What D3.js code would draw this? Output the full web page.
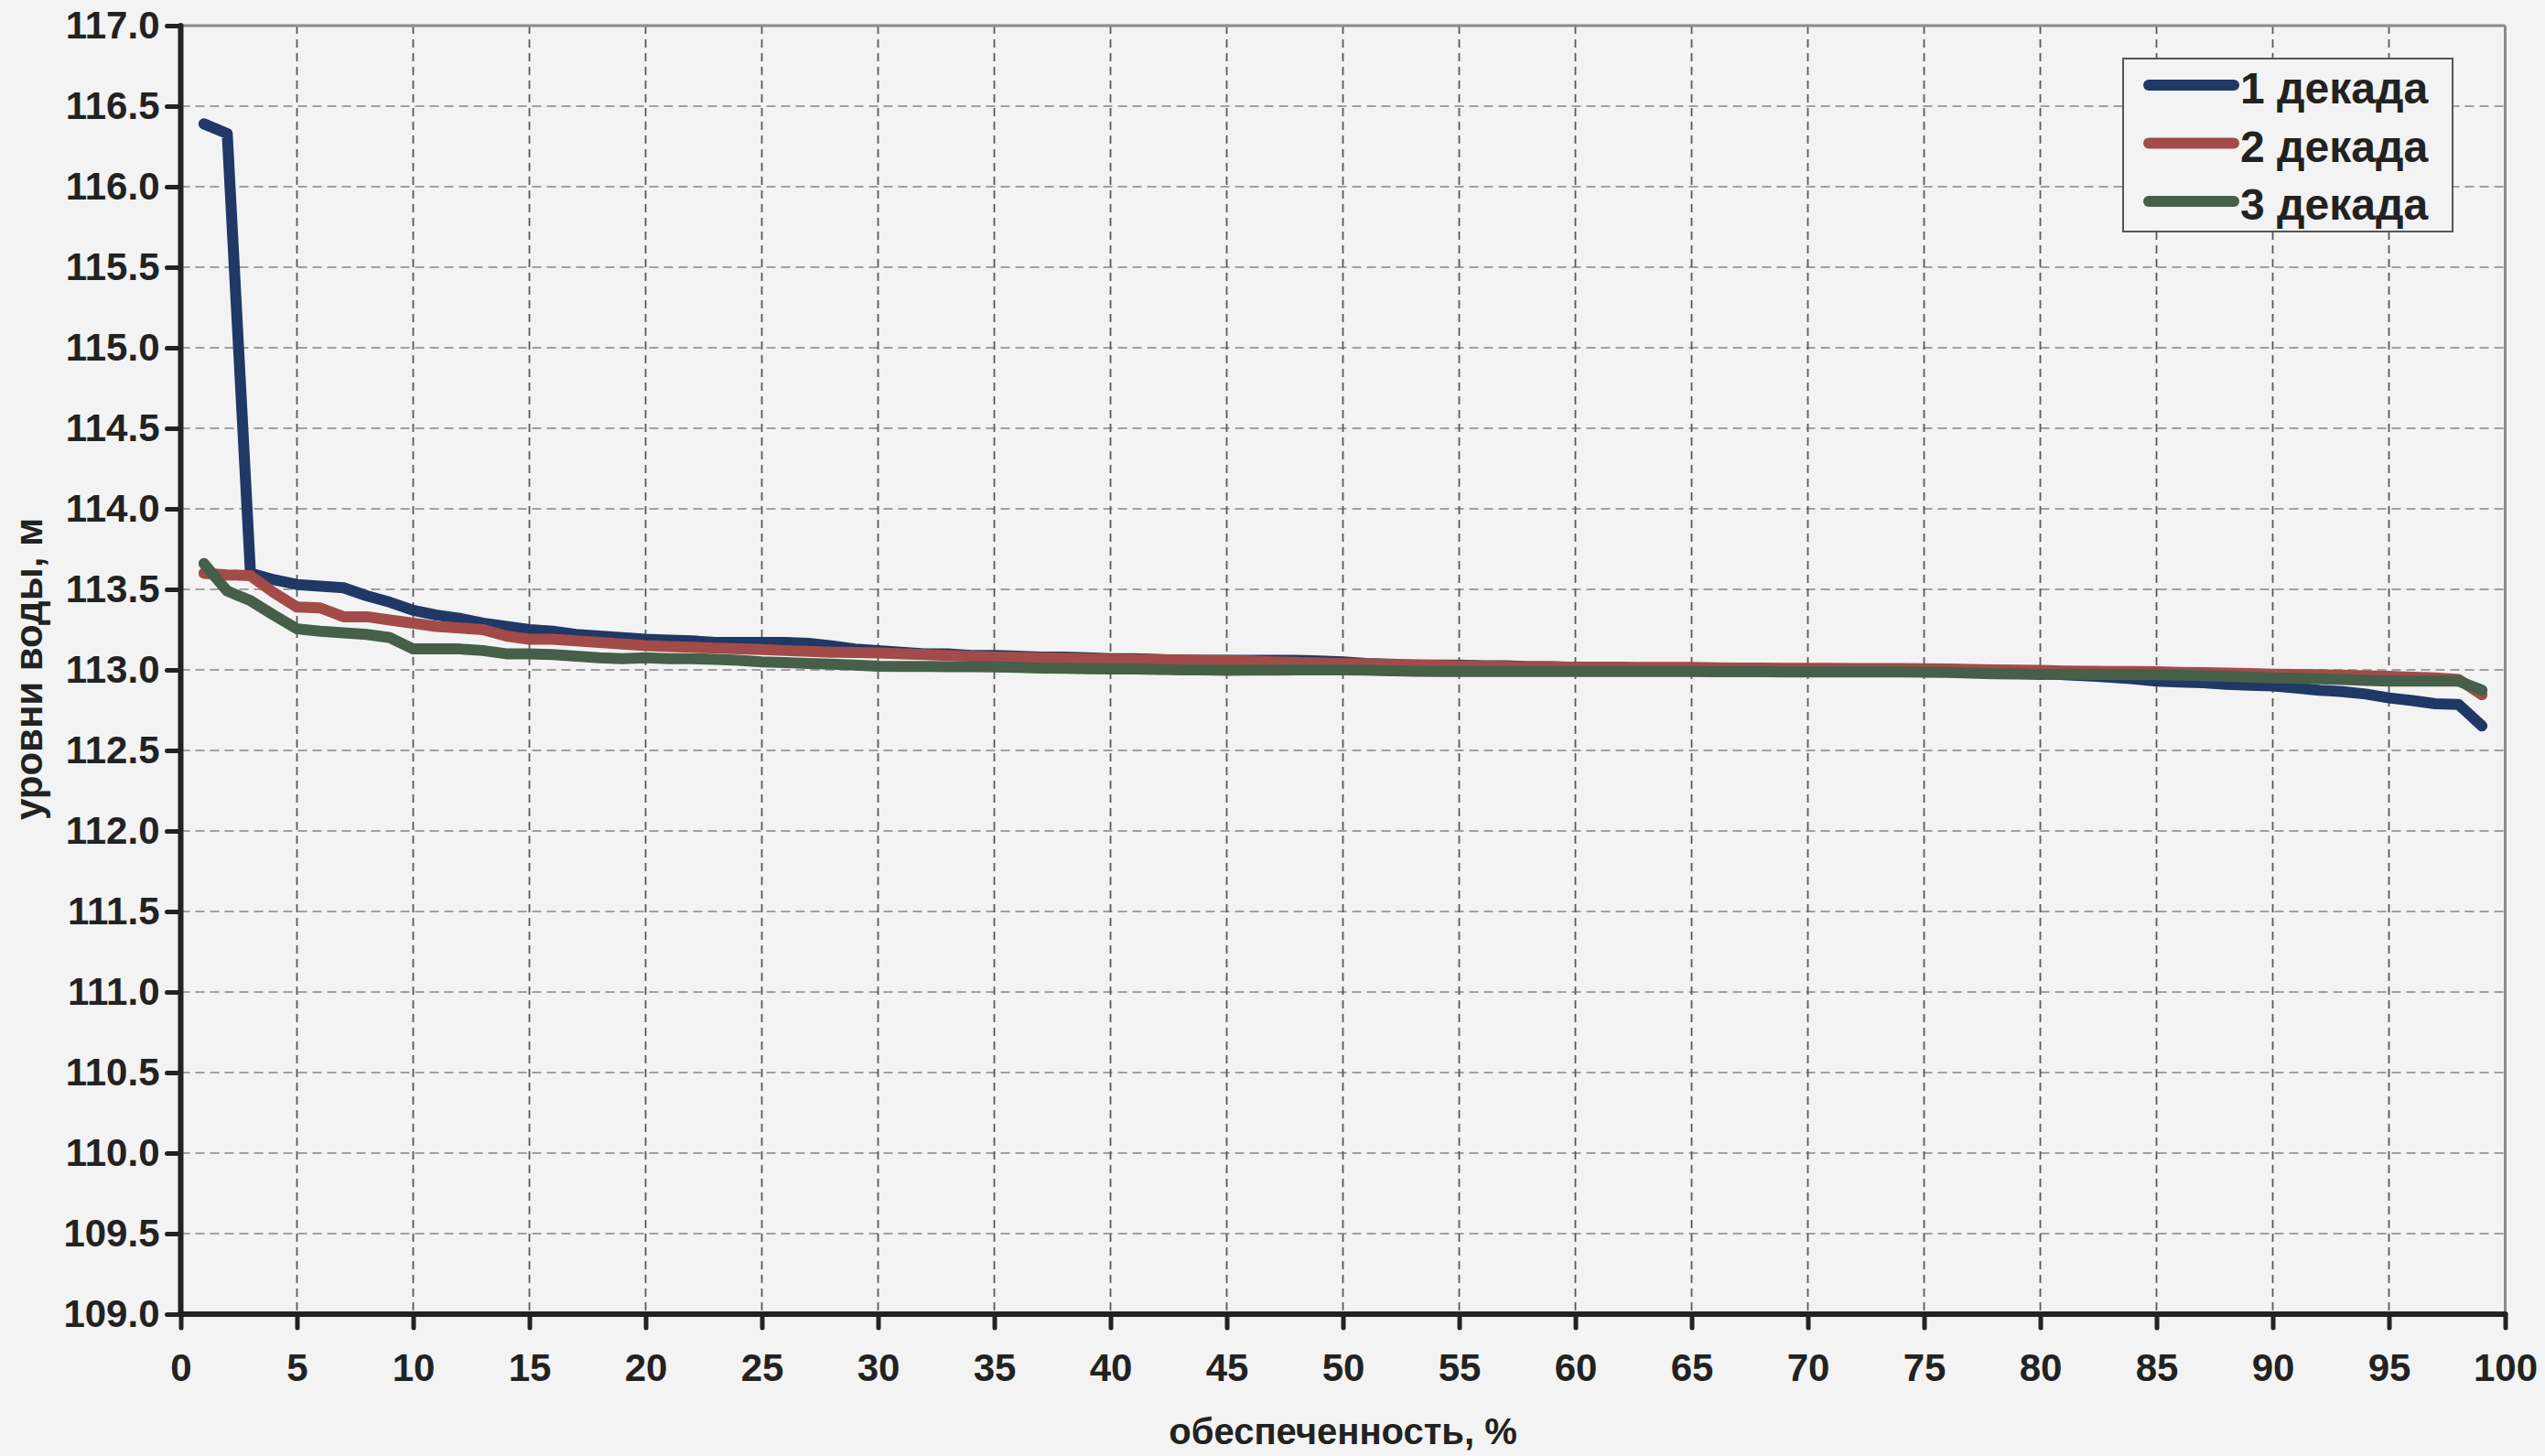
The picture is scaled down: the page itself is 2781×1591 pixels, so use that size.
<!DOCTYPE html>
<html><head><meta charset="utf-8">
<script src="https://cdn.jsdelivr.net/npm/d3@7/dist/d3.min.js"></script>
<style>
html,body{margin:0;padding:0;background:#f3f3f3;}
svg{display:block;}
text{font-family:"Liberation Sans",Arial,sans-serif;font-weight:bold;fill:#222;}
</style></head>
<body>
<script>
const xValues = d3.range(1, 100);
const seriesNames = ["1 декада", "2 декада", "3 декада"];
const decade1 = [116.39,116.33,113.60,113.56,113.53,113.52,113.51,113.46,113.42,113.37,
113.34,113.32,113.29,113.27,113.25,113.24,113.22,113.21,113.20,113.19,
113.185,113.18,113.17,113.17,113.17,113.17,113.165,113.15,113.13,113.12,
113.11,113.10,113.10,113.09,113.09,113.085,113.08,113.08,113.075,113.07,
113.07,113.065,113.06,113.06,113.06,113.06,113.06,113.06,113.055,113.05,
113.04,113.035,113.03,113.03,113.03,113.025,113.025,113.02,113.02,113.015,
113.015,113.015,113.01,113.01,113.01,113.01,113.01,113.005,113.005,113.005,
113.005,113.005,113.0,113.0,113.0,113.0,112.995,112.99,112.985,112.98,
112.97,112.963,112.955,112.945,112.93,112.925,112.92,112.91,112.905,112.90,
112.888,112.874,112.865,112.85,112.826,112.81,112.79,112.785,112.652];
const decade2 = [113.60,113.59,113.585,113.48,113.39,113.385,113.33,113.33,113.31,113.29,
113.27,113.26,113.25,113.21,113.19,113.19,113.18,113.17,113.16,113.15,
113.145,113.14,113.135,113.13,113.127,113.12,113.115,113.11,113.108,113.105,
113.10,113.095,113.09,113.085,113.08,113.078,113.075,113.072,113.07,113.067,
113.065,113.063,113.062,113.06,113.058,113.055,113.05,113.047,113.043,113.04,
113.037,113.034,113.031,113.028,113.026,113.024,113.022,113.02,113.018,113.016,
113.016,113.016,113.016,113.016,113.015,113.013,113.012,113.011,113.01,113.01,
113.01,113.009,113.008,113.008,113.007,113.005,113.003,113.0,112.998,112.997,
112.993,112.992,112.99,112.99,112.988,112.985,112.983,112.98,112.977,112.973,
112.972,112.97,112.967,112.963,112.96,112.955,112.95,112.94,112.846];
const decade3 = [113.66,113.49,113.43,113.34,113.255,113.24,113.23,113.22,113.20,113.13,
113.13,113.13,113.12,113.10,113.10,113.095,113.085,113.075,113.07,113.075,
113.07,113.07,113.065,113.06,113.05,113.045,113.04,113.035,113.03,113.023,
113.022,113.021,113.02,113.02,113.018,113.015,113.012,113.01,113.007,113.005,
113.005,113.003,113.0,113.0,112.997,112.998,112.999,113.0,113.0,113.0,
112.998,112.995,112.992,112.99,112.99,112.99,112.99,112.99,112.99,112.99,
112.99,112.99,112.99,112.99,112.99,112.989,112.988,112.988,112.987,112.987,
112.987,112.987,112.987,112.987,112.986,112.984,112.98,112.976,112.974,112.972,
112.973,112.972,112.971,112.97,112.97,112.967,112.963,112.96,112.955,112.95,
112.947,112.944,112.94,112.935,112.93,112.93,112.93,112.93,112.874];
const seriesColors = ["#1f3866", "#a34b49", "#465f48"];
const xTicks = d3.range(0, 101, 5);
const yTicks = d3.range(109, 117.01, 0.5);
const xTitle = "обеспеченность, %";
const yTitle = "уровни воды, м";

const W = 2781, H = 1591;
const m = {left: 197.5, right: 2737.5, top: 28, bottom: 1436};
const svg = d3.select("body").append("svg").attr("width", W).attr("height", H);
svg.append("rect").attr("width", W).attr("height", H).attr("fill", "#f3f3f3");

const x = d3.scaleLinear().domain([0, 100]).range([m.left, m.right]);
const y = d3.scaleLinear().domain([109, 117]).range([m.bottom, m.top]);

// grid
const grid = svg.append("g");
grid.selectAll(".hg").data(yTicks.slice(1)).enter().append("line")
  .attr("x1", m.left).attr("x2", m.right)
  .attr("y1", d => y(d)).attr("y2", d => y(d))
  .attr("stroke", "#a0a0a0").attr("stroke-width", 2).attr("stroke-dasharray", "10,6");
grid.selectAll(".vg").data(xTicks.slice(1, -1)).enter().append("line")
  .attr("x1", d => x(d)).attr("x2", d => x(d))
  .attr("y1", m.top).attr("y2", m.bottom)
  .attr("stroke", "#5a5a5a").attr("stroke-width", 1.8).attr("stroke-dasharray", "9,6");

// top and right borders
svg.append("line").attr("x1", m.left).attr("x2", m.right).attr("y1", m.top).attr("y2", m.top)
  .attr("stroke", "#8a8a8a").attr("stroke-width", 3);
svg.append("line").attr("x1", m.right).attr("x2", m.right).attr("y1", m.top).attr("y2", m.bottom)
  .attr("stroke", "#8a8a8a").attr("stroke-width", 3);

// series
const data = [decade1, decade2, decade3];
const line = d3.line().x((d, i) => x(xValues[i])).y(d => y(d));
data.forEach((s, k) => {
  svg.append("path").datum(s).attr("d", line).attr("fill", "none")
    .attr("stroke", seriesColors[k]).attr("stroke-width", 12)
    .attr("stroke-linejoin", "round").attr("stroke-linecap", "round");
});

// axes
const yAxis = d3.axisLeft(y).tickValues(yTicks).tickFormat(d3.format(".1f")).tickSize(15).tickPadding(8);
const gy = svg.append("g").attr("transform", `translate(${m.left},0)`).call(yAxis);
const xAxis = d3.axisBottom(x).tickValues(xTicks).tickFormat(d3.format("d")).tickSize(15).tickPadding(28);
const gx = svg.append("g").attr("transform", `translate(0,${m.bottom})`).call(xAxis);
[gy, gx].forEach(g => {
  g.select(".domain").remove();
  g.selectAll(".tick line").attr("stroke", "#222").attr("stroke-width", 5).attr("stroke-linecap", "round");
  g.selectAll(".tick text").attr("font-size", 42).attr("fill", "#222")
    .attr("font-family", "'Liberation Sans', Arial, sans-serif").attr("font-weight", "bold");
});
svg.append("line").attr("x1", m.left).attr("x2", m.left).attr("y1", m.top).attr("y2", m.bottom)
  .attr("stroke", "#222").attr("stroke-width", 6).attr("stroke-linecap", "round");
svg.append("line").attr("x1", m.left).attr("x2", m.right).attr("y1", m.bottom).attr("y2", m.bottom)
  .attr("stroke", "#222").attr("stroke-width", 6).attr("stroke-linecap", "round");

// titles
svg.append("text").attr("x", (m.left + m.right) / 2).attr("y", 1578)
  .attr("text-anchor", "middle").attr("font-size", 40).text(xTitle);
svg.append("text").attr("transform", `translate(46,731) rotate(-90)`)
  .attr("text-anchor", "middle").attr("font-size", 42).text(yTitle);

// legend
const lg = svg.append("g");
lg.append("rect").attr("x", 2320).attr("y", 64).attr("width", 360).attr("height", 189)
  .attr("fill", "#f3f3f3").attr("stroke", "#555").attr("stroke-width", 2);
seriesNames.forEach((n, i) => {
  const yy = 93 + i * 63.5;
  lg.append("line").attr("x1", 2348).attr("x2", 2441).attr("y1", yy).attr("y2", yy)
    .attr("stroke", seriesColors[i]).attr("stroke-width", 12).attr("stroke-linecap", "round");
  lg.append("text").attr("x", 2448).attr("y", yy + 20).attr("font-size", 48).text(n);
});
</script>
</body></html>
